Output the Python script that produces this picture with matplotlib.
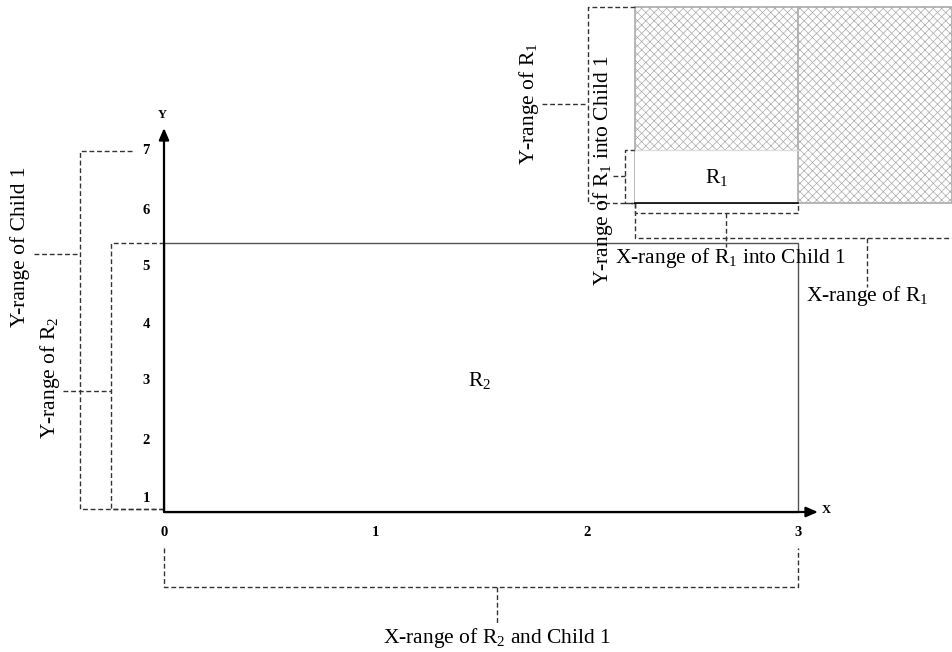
"""
Schematic: ranges of R1 / R2 against Child 1 on an X-Y grid.
Drawn in pixel-like coordinates on a single full-figure axes.
"""
import matplotlib.pyplot as plt
from matplotlib.patches import Rectangle

plt.rcParams["font.family"] = ["Liberation Serif", "DejaVu Serif"]
plt.rcParams["mathtext.fontset"] = "custom"
plt.rcParams["mathtext.rm"] = "Liberation Serif"
plt.rcParams["hatch.linewidth"] = 0.5
plt.rcParams["hatch.color"] = "#a8a8a8"

W, H = 952, 652

# axes of the diagram
ORIGIN = (164, 512)
X_END = 818
Y_END = 128
X_TICK_LABELS = ["0", "1", "2", "3"]
X_TICK_POS = [164, 375, 587, 798]
Y_TICK_LABELS = ["1", "2", "3", "4", "5", "6", "7"]
Y_TICK_POS = [498, 440, 381, 324, 267, 210, 151]

# rectangles: (x0, y0, x1, y1)
R2_BOX = (164, 243, 798, 512)
HATCH_BOX = (635, 7, 952, 203)
R1_BOX = (635, 150, 798, 203)

# vertical brackets: x, y_top, y_bot, x_end_top, x_end_bot, y_mid, x_mid_end
V_BRACKETS = [
    (80, 151, 509, 132, 164, 254, 34),    # Y-range of Child 1
    (111, 243, 509, 164, 164, 391, 63),   # Y-range of R2
    (588, 7, 203, 635, 635, 104, 542),    # Y-range of R1
    (625, 150, 203, 635, 635, 176, 613),  # Y-range of R1 into Child 1
]
# horizontal brackets: y, x_left, x_right, y_end_left, y_end_right, x_mid, y_mid_end
H_BRACKETS = [
    (587, 164, 798, 548, 548, 497, 625),  # X-range of R2 and Child 1
    (213, 635, 798, 203, 203, 726, 247),  # X-range of R1 into Child 1
    (238, 635, 960, 203, 238, 867, 287),  # X-range of R1
]

LABELS = [
    # text, x, y, rotation
    ("Y-range of Child 1", 20, 247, 90),
    ("Y-range of R$_2$", 50, 378, 90),
    ("Y-range of R$_1$", 529, 104, 90),
    ("Y-range of R$_1$ into Child 1", 603, 171, 90),
    ("X-range of R$_1$ into Child 1", 730, 258, 0),
    ("X-range of R$_1$", 867, 296, 0),
    ("X-range of R$_2$ and Child 1", 497, 638, 0),
    ("R$_1$", 717, 178, 0),
    ("R$_2$", 480, 381, 0),
]
LABEL_SIZE = 15.5

DASH = dict(color="#333333", lw=1.0, ls=(0, (3.5, 2)))

fig = plt.figure(figsize=(W / 100, H / 100), dpi=100)
ax = fig.add_axes([0, 0, 1, 1])
ax.set_xlim(0, W)
ax.set_ylim(H, 0)
ax.axis("off")

# hatched block with the white R1 cut-out
hx0, hy0, hx1, hy1 = HATCH_BOX
ax.add_patch(Rectangle((hx0, hy0), hx1 - hx0, hy1 - hy0, facecolor="white",
                       edgecolor="#aaaaaa", hatch="xxxx", lw=1.2, zorder=1))
rx0, ry0, rx1, ry1 = R1_BOX
ax.add_patch(Rectangle((rx0, ry0), rx1 - rx0, ry1 - ry0, facecolor="white",
                       edgecolor="none", zorder=2))
ax.plot([rx1, rx1], [hy0, hy1], color="#aaaaaa", lw=1.2, zorder=3)
ax.plot([rx0, rx1], [ry0, ry0], color="#dddddd", lw=1.0, zorder=3)
ax.plot([rx0, rx1], [ry1, ry1], color="black", lw=1.2, zorder=3)

# R2 rectangle
bx0, by0, bx1, by1 = R2_BOX
ax.add_patch(Rectangle((bx0, by0), bx1 - bx0, by1 - by0, facecolor="none",
                       edgecolor="#555555", lw=1.0, zorder=2))

# axes with arrows
ox, oy = ORIGIN
arrow = dict(arrowstyle="-|>,head_length=0.7,head_width=0.3",
             color="black", lw=1.6, shrinkA=0, shrinkB=0)
ax.annotate("", xy=(ox, Y_END), xytext=(ox, oy), arrowprops=arrow, zorder=4)
ax.annotate("", xy=(X_END, oy), xytext=(ox, oy), arrowprops=arrow, zorder=4)
ax.text(ox - 2, Y_END - 13, "Y", ha="center", va="center", fontsize=9, fontweight="bold")
ax.text(X_END + 8, oy - 2, "X", ha="center", va="center", fontsize=9, fontweight="bold")

for lab, x in zip(X_TICK_LABELS, X_TICK_POS):
    ax.text(x, 532, lab, ha="center", va="center", fontsize=10.5, fontweight="bold")
for lab, y in zip(Y_TICK_LABELS, Y_TICK_POS):
    ax.text(146, y, lab, ha="center", va="center", fontsize=10.5, fontweight="bold")

# dashed brackets
for x, yt, yb, xet, xeb, ym, xm in V_BRACKETS:
    ax.plot([xet, x, x, xeb], [yt, yt, yb, yb], **DASH)
    ax.plot([xm, x], [ym, ym], **DASH)
for y, xl, xr, yel, yer, xm, ym in H_BRACKETS:
    ax.plot([xl, xl, xr, xr], [yel, y, y, yer], **DASH)
    ax.plot([xm, xm], [y, ym], **DASH)

for text, x, y, rot in LABELS:
    ax.text(x, y, text, ha="center", va="center", rotation=rot,
            fontsize=LABEL_SIZE, zorder=5)

fig.savefig("out.png", dpi=100)
